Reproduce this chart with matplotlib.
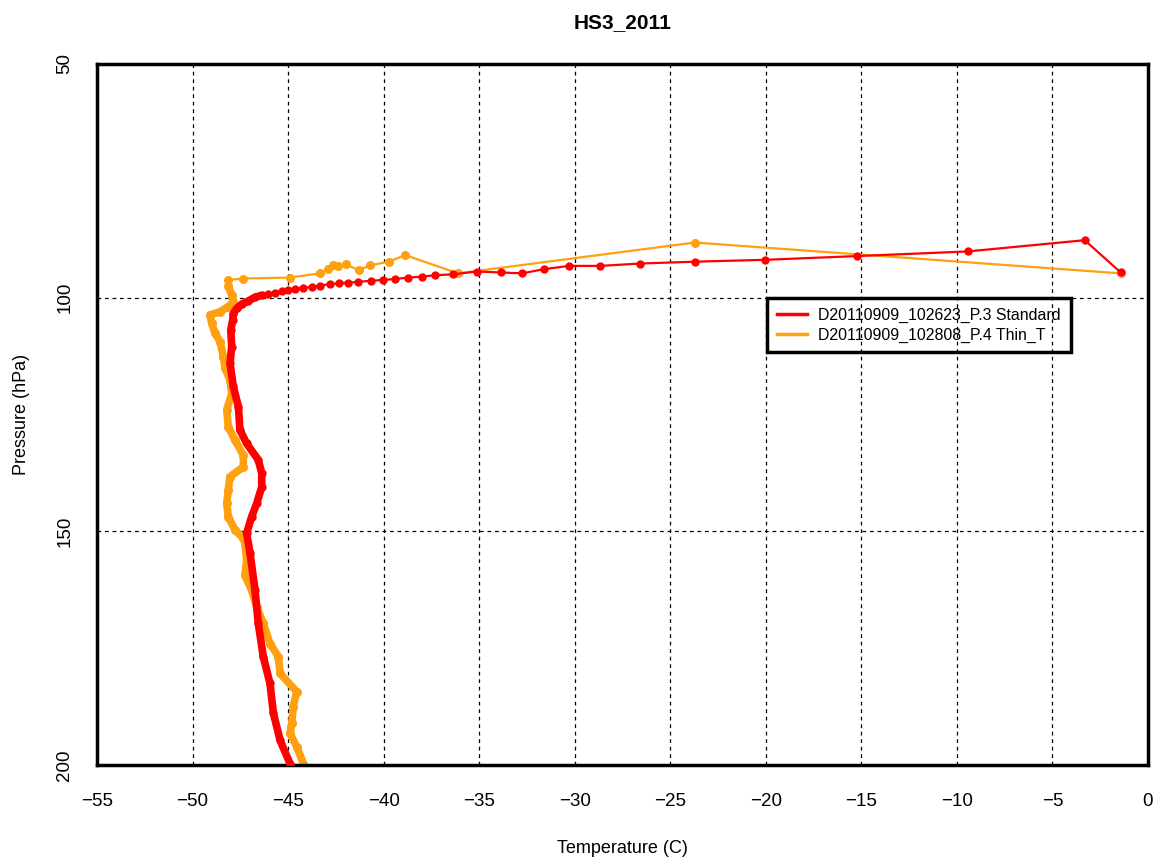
import matplotlib.pyplot as plt
import numpy as np

plt.rcParams['font.family'] = ['Liberation Sans', 'DejaVu Sans']

# D20110909_102623_P.3 Standard (from 200 hPa upward)
std_p = [199.7, 194.7, 188.9, 182.5, 176.8, 169.7, 162.6, 154.7, 150.4, 146.9,
         144.0, 140.5, 137.6, 134.7, 131.2, 128.3, 123.3, 119.0, 114.0, 110.5,
         106.9, 104.8, 103.4, 102.3, 101.4, 100.7, 99.9, 99.5, 99.2, 98.9,
         98.6, 98.4, 98.1, 97.9, 97.7, 97.4, 97.1, 96.9, 96.8, 96.6,
         96.4, 96.2, 96.0, 95.7, 95.5, 95.2, 95.0, 94.4, 94.6, 94.8,
         93.9, 93.2, 93.2, 92.7, 92.3, 91.9, 91.1, 90.1, 87.7, 94.6]
std_t = [-44.90, -45.42, -45.77, -45.95, -46.30, -46.56, -46.73, -46.99, -47.17, -46.91,
         -46.64, -46.38, -46.38, -46.56, -47.17, -47.52, -47.60, -47.87, -48.04, -47.95,
         -48.00, -47.90, -47.87, -47.69, -47.43, -47.08, -46.73, -46.38, -46.04, -45.69,
         -45.34, -44.99, -44.64, -44.20, -43.77, -43.33, -42.81, -42.32, -41.85, -41.33,
         -40.68, -40.02, -39.40, -38.72, -38.00, -37.30, -36.35, -35.13, -33.87, -32.76,
         -31.61, -30.30, -28.67, -26.60, -23.72, -20.04, -15.22, -9.41, -3.31, -1.43]

# D20110909_102808_P.4 Thin_T
thin_p = [199.7, 196.1, 193.2, 191.1, 187.5, 184.3, 180.4, 176.8, 174.0, 169.7,
          166.1, 162.6, 159.4, 156.1, 152.6, 151.5, 149.7, 146.9, 144.0, 141.2,
          138.3, 136.2, 133.7, 130.5, 127.6, 124.0, 120.5, 117.6, 115.1, 112.6,
          109.4, 107.6, 105.5, 103.7, 103.0, 101.9, 100.9, 99.4, 97.6, 96.2,
          95.9, 95.7, 94.8, 93.9, 93.1, 93.2, 92.9, 94.1, 93.1, 92.3,
          90.9, 94.8, 88.2, 94.8]
thin_t = [-44.20, -44.55, -44.90, -44.81, -44.73, -44.55, -45.42, -45.51, -45.95, -46.30,
          -46.64, -46.91, -47.26, -47.17, -47.26, -47.34, -47.78, -48.13, -48.21, -48.13,
          -48.04, -47.34, -47.34, -47.78, -48.13, -48.21, -47.95, -48.04, -48.30, -48.39,
          -48.56, -48.82, -49.00, -49.08, -48.56, -48.13, -47.87, -47.95, -48.13, -48.13,
          -47.34, -44.90, -43.33, -42.89, -42.63, -42.39, -41.97, -41.31, -40.71, -39.74,
          -38.87, -36.10, -23.72, -1.43]

x_ticks = list(range(-55, 1, 5))
y_ticks = [50, 100, 150, 200]

RED = '#ff0000'
ORANGE = '#ffa010'

fig = plt.figure(figsize=(11.59, 8.59), dpi=100)
ax = fig.add_axes([0.0837, 0.1094, 0.9068, 0.8161])

sp, st = np.array(std_p), np.array(std_t)
tp, tt = np.array(thin_p), np.array(thin_t)

# dense part of each sounding shows as a thick trace
m = sp >= 99.5
ax.plot(st[m], sp[m], color=RED, lw=5.5, solid_capstyle='round', zorder=3)
m = tp >= 96.5
ax.plot(tt[m], tp[m], color=ORANGE, lw=5.5, solid_capstyle='round', zorder=2.5)

ax.plot(std_t, std_p, color=RED, lw=1.6, marker='o', ms=5, zorder=3,
        label='D20110909_102623_P.3 Standard')
ax.plot(thin_t, thin_p, color=ORANGE, lw=1.6, marker='o', ms=5.5, zorder=2.5,
        label='D20110909_102808_P.4 Thin_T')

ax.set_xlim(-55, 0)
ax.set_ylim(200, 50)
ax.set_xticks(x_ticks)
ax.set_yticks(y_ticks)
ax.tick_params(length=0, labelsize=13.5)
ax.tick_params(axis='x', pad=20)
ax.tick_params(axis='y', pad=17)
for lab in ax.get_yticklabels():
    lab.set_rotation(90)
    lab.set_va('center')

ax.grid(True, color='black', linestyle=(0, (3, 3)), lw=0.9)
for s in ax.spines.values():
    s.set_linewidth(2.5)

ax.set_xlabel('Temperature (C)', fontsize=13, labelpad=22)
ax.set_ylabel('Pressure (hPa)', fontsize=13, labelpad=19)
ax.set_title('HS3_2011', fontsize=15, fontweight='bold',
             family=['Liberation Sans Narrow', 'Liberation Sans'], pad=26)

leg = ax.legend(loc='upper left', bbox_to_anchor=(0.6375, 0.666), fontsize=11.4,
                fancybox=False, framealpha=1, edgecolor='black',
                borderaxespad=0, handlelength=1.9, handletextpad=0.75,
                borderpad=0.6, labelspacing=0.3)
leg.get_frame().set_linewidth(2.5)
for h in leg.get_lines():
    h.set_marker('')
    h.set_linewidth(2.5)
leg.set_zorder(1)

fig.savefig('out.png', dpi=100)
